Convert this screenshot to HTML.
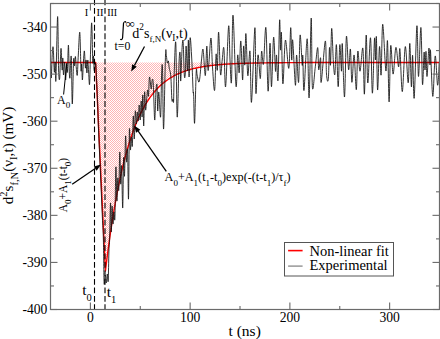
<!DOCTYPE html>
<html><head><meta charset="utf-8"><style>
html,body{margin:0;padding:0;background:#fff;}
svg{display:block;}
text{font-family:"Liberation Serif", serif;fill:#000;}
</style></head><body>
<svg width="440" height="339" viewBox="0 0 440 339">
<defs><pattern id="chk" width="2" height="2" patternUnits="userSpaceOnUse"><rect width="2" height="2" fill="#fff"/><rect width="1" height="1" fill="#ffb4b4"/><rect x="1" y="1" width="1" height="1" fill="#ffb4b4"/></pattern></defs>
<path d="M95.60,62.50 L105.40,271.00 L106.40,262.82 L107.40,254.97 L108.40,247.42 L109.40,240.17 L110.40,233.21 L111.40,226.51 L112.40,220.08 L113.40,213.90 L114.40,207.97 L115.40,202.26 L116.40,196.78 L117.40,191.52 L118.40,186.46 L119.40,181.60 L120.40,176.93 L121.40,172.44 L122.40,168.13 L123.40,163.99 L124.40,160.01 L125.40,156.19 L126.40,152.51 L127.40,148.98 L128.40,145.59 L129.40,142.33 L130.40,139.20 L131.40,136.20 L132.40,133.31 L133.40,130.53 L134.40,127.86 L135.40,125.30 L136.40,122.84 L137.40,120.47 L138.40,118.20 L139.40,116.01 L140.40,113.92 L141.40,111.90 L142.40,109.96 L143.40,108.10 L144.40,106.31 L145.40,104.60 L146.40,102.94 L147.40,101.36 L148.40,99.84 L149.40,98.37 L150.40,96.96 L151.40,95.61 L152.40,94.32 L153.40,93.07 L154.40,91.87 L155.40,90.72 L156.40,89.61 L157.40,88.55 L158.40,87.53 L159.40,86.55 L160.40,85.60 L161.40,84.70 L162.40,83.83 L163.40,82.99 L164.40,82.19 L165.40,81.41 L166.40,80.67 L167.40,79.96 L168.40,79.28 L169.40,78.62 L170.40,77.99 L171.40,77.38 L172.40,76.80 L173.40,76.23 L174.40,75.70 L175.40,75.18 L176.40,74.68 L177.40,74.20 L178.40,73.75 L179.40,73.30 L180.40,72.88 L181.40,72.47 L182.40,72.08 L183.40,71.71 L184.40,71.35 L185.40,71.00 L186.40,70.67 L187.40,70.35 L188.40,70.04 L189.40,69.74 L190.40,69.46 L191.40,69.19 L192.40,68.92 L193.40,68.67 L194.40,68.43 L195.40,68.20 L196.40,67.97 L197.40,67.76 L198.40,67.55 L199.40,67.35 L200.40,67.16 L201.40,66.98 L202.40,66.81 L203.40,66.64 L204.40,66.47 L205.40,66.32 L206.40,66.17 L207.40,66.03 L208.40,65.89 L209.40,65.75 L210.40,65.63 L211.40,65.50 L212.40,65.39 L213.40,65.27 L214.40,65.16 L215.40,65.06 L216.40,64.96 L217.40,64.86 L218.40,64.77 L219.40,64.68 L220.40,64.60 L221.40,64.51 L222.40,64.43 L223.40,64.36 L224.40,64.29 L225.40,64.22 L226.40,64.15 L227.40,64.08 L228.40,64.02 L229.40,63.96 L230.40,63.90 L231.40,63.85 L232.40,63.80 L233.40,63.75 L234.40,63.70 L235.40,63.65 L236.40,63.61 L237.40,63.56 L238.40,63.52 L239.40,63.48 L240.40,63.44 L241.40,63.40 L242.40,63.37 L243.40,63.34 L244.40,63.30 L245.40,63.27 L246.40,63.24 L247.40,63.21 L248.40,63.18 L249.40,63.16 L250.40,63.13 L251.40,63.11 L252.40,63.08 L253.40,63.06 L254.40,63.04 L255.40,63.02 L256.40,63.00 L257.40,62.98 L258.40,62.96 L259.40,62.94 L260.40,62.92 L260.40,62.50 Z" fill="url(#chk)" stroke="none"/>
<path d="M50.50,62.50 L95.60,62.50 L105.40,271.00 L106.40,262.82 L107.40,254.97 L108.40,247.42 L109.40,240.17 L110.40,233.21 L111.40,226.51 L112.40,220.08 L113.40,213.90 L114.40,207.97 L115.40,202.26 L116.40,196.78 L117.40,191.52 L118.40,186.46 L119.40,181.60 L120.40,176.93 L121.40,172.44 L122.40,168.13 L123.40,163.99 L124.40,160.01 L125.40,156.19 L126.40,152.51 L127.40,148.98 L128.40,145.59 L129.40,142.33 L130.40,139.20 L131.40,136.20 L132.40,133.31 L133.40,130.53 L134.40,127.86 L135.40,125.30 L136.40,122.84 L137.40,120.47 L138.40,118.20 L139.40,116.01 L140.40,113.92 L141.40,111.90 L142.40,109.96 L143.40,108.10 L144.40,106.31 L145.40,104.60 L146.40,102.94 L147.40,101.36 L148.40,99.84 L149.40,98.37 L150.40,96.96 L151.40,95.61 L152.40,94.32 L153.40,93.07 L154.40,91.87 L155.40,90.72 L156.40,89.61 L157.40,88.55 L158.40,87.53 L159.40,86.55 L160.40,85.60 L161.40,84.70 L162.40,83.83 L163.40,82.99 L164.40,82.19 L165.40,81.41 L166.40,80.67 L167.40,79.96 L168.40,79.28 L169.40,78.62 L170.40,77.99 L171.40,77.38 L172.40,76.80 L173.40,76.23 L174.40,75.70 L175.40,75.18 L176.40,74.68 L177.40,74.20 L178.40,73.75 L179.40,73.30 L180.40,72.88 L181.40,72.47 L182.40,72.08 L183.40,71.71 L184.40,71.35 L185.40,71.00 L186.40,70.67 L187.40,70.35 L188.40,70.04 L189.40,69.74 L190.40,69.46 L191.40,69.19 L192.40,68.92 L193.40,68.67 L194.40,68.43 L195.40,68.20 L196.40,67.97 L197.40,67.76 L198.40,67.55 L199.40,67.35 L200.40,67.16 L201.40,66.98 L202.40,66.81 L203.40,66.64 L204.40,66.47 L205.40,66.32 L206.40,66.17 L207.40,66.03 L208.40,65.89 L209.40,65.75 L210.40,65.63 L211.40,65.50 L212.40,65.39 L213.40,65.27 L214.40,65.16 L215.40,65.06 L216.40,64.96 L217.40,64.86 L218.40,64.77 L219.40,64.68 L220.40,64.60 L221.40,64.51 L222.40,64.43 L223.40,64.36 L224.40,64.29 L225.40,64.22 L226.40,64.15 L227.40,64.08 L228.40,64.02 L229.40,63.96 L230.40,63.90 L231.40,63.85 L232.40,63.80 L233.40,63.75 L234.40,63.70 L235.40,63.65 L236.40,63.61 L237.40,63.56 L238.40,63.52 L239.40,63.48 L240.40,63.44 L241.40,63.40 L242.40,63.37 L243.40,63.34 L244.40,63.30 L245.40,63.27 L246.40,63.24 L247.40,63.21 L248.40,63.18 L249.40,63.16 L250.40,63.13 L251.40,63.11 L252.40,63.08 L253.40,63.06 L254.40,63.04 L255.40,63.02 L256.40,63.00 L257.40,62.98 L258.40,62.96 L259.40,62.94 L260.40,62.92 L261.40,62.91 L262.40,62.89 L263.40,62.88 L264.40,62.86 L265.40,62.85 L266.40,62.83 L267.40,62.82 L268.40,62.81 L269.40,62.80 L270.40,62.78 L271.40,62.77 L272.40,62.76 L273.40,62.75 L274.40,62.74 L275.40,62.73 L276.40,62.72 L277.40,62.71 L278.40,62.71 L279.40,62.70 L280.40,62.69 L281.40,62.68 L282.40,62.68 L283.40,62.67 L284.40,62.66 L285.40,62.66 L286.40,62.65 L287.40,62.64 L288.40,62.64 L289.40,62.63 L290.40,62.63 L291.40,62.62 L292.40,62.62 L293.40,62.61 L294.40,62.61 L295.40,62.60 L296.40,62.60 L297.40,62.60 L298.40,62.59 L299.40,62.59 L300.40,62.59 L301.40,62.58 L302.40,62.58 L303.40,62.58 L304.40,62.57 L305.40,62.57 L306.40,62.57 L307.40,62.56 L308.40,62.56 L309.40,62.56 L310.40,62.56 L311.40,62.56 L312.40,62.55 L313.40,62.55 L314.40,62.55 L315.40,62.55 L316.40,62.55 L317.40,62.54 L318.40,62.54 L319.40,62.54 L320.40,62.54 L321.40,62.54 L322.40,62.54 L323.40,62.53 L324.40,62.53 L325.40,62.53 L326.40,62.53 L327.40,62.53 L328.40,62.53 L329.40,62.53 L330.40,62.53 L331.40,62.52 L332.40,62.52 L333.40,62.52 L334.40,62.52 L335.40,62.52 L336.40,62.52 L337.40,62.52 L338.40,62.52 L339.40,62.52 L340.40,62.52 L341.40,62.52 L342.40,62.52 L343.40,62.52 L344.40,62.51 L345.40,62.51 L346.40,62.51 L347.40,62.51 L348.40,62.51 L349.40,62.51 L350.40,62.51 L351.40,62.51 L352.40,62.51 L353.40,62.51 L354.40,62.51 L355.40,62.51 L356.40,62.51 L357.40,62.51 L358.40,62.51 L359.40,62.51 L360.40,62.51 L361.40,62.51 L362.40,62.51 L363.40,62.51 L364.40,62.51 L365.40,62.51 L366.40,62.51 L367.40,62.51 L368.40,62.51 L369.40,62.51 L370.40,62.51 L371.40,62.50 L372.40,62.50 L373.40,62.50 L374.40,62.50 L375.40,62.50 L376.40,62.50 L377.40,62.50 L378.40,62.50 L379.40,62.50 L380.40,62.50 L381.40,62.50 L382.40,62.50 L383.40,62.50 L384.40,62.50 L385.40,62.50 L386.40,62.50 L387.40,62.50 L388.40,62.50 L389.40,62.50 L390.40,62.50 L391.40,62.50 L392.40,62.50 L393.40,62.50 L394.40,62.50 L395.40,62.50 L396.40,62.50 L397.40,62.50 L398.40,62.50 L399.40,62.50 L400.40,62.50 L401.40,62.50 L402.40,62.50 L403.40,62.50 L404.40,62.50 L405.40,62.50 L406.40,62.50 L407.40,62.50 L408.40,62.50 L409.40,62.50 L410.40,62.50 L411.40,62.50 L412.40,62.50 L413.40,62.50 L414.40,62.50 L415.40,62.50 L416.40,62.50 L417.40,62.50 L418.40,62.50 L419.40,62.50 L420.40,62.50 L421.40,62.50 L422.40,62.50 L423.40,62.50 L424.40,62.50 L425.40,62.50 L426.40,62.50 L427.40,62.50 L428.40,62.50 L429.40,62.50 L430.40,62.50 L431.40,62.50 L432.40,62.50 L433.40,62.50 L434.40,62.50 L435.40,62.50 L436.40,62.50 L437.40,62.50 L438.40,62.50 L439.40,62.50 L439.50,62.50" fill="none" stroke="#f00" stroke-width="1.4" stroke-linejoin="round"/>
<path d="M50.50,60.00 C50.63,63.00 51.02,78.83 51.30,78.00 C51.58,77.17 51.88,60.08 52.20,55.00 C52.52,49.92 52.85,44.67 53.20,47.50 C53.55,50.33 53.97,69.58 54.30,72.00 C54.63,74.42 54.93,60.67 55.20,62.00 C55.47,63.33 55.50,87.57 55.90,80.00 C56.30,72.43 57.15,18.27 57.60,16.60 C58.05,14.93 58.27,59.60 58.60,70.00 C58.93,80.40 59.30,80.67 59.60,79.00 C59.90,77.33 60.15,65.07 60.40,60.00 C60.65,54.93 60.80,46.93 61.10,48.60 C61.40,50.27 61.92,68.43 62.20,70.00 C62.48,71.57 62.58,57.17 62.80,58.00 C63.02,58.83 63.18,74.33 63.50,75.00 C63.82,75.67 64.35,61.17 64.70,62.00 C65.05,62.83 65.28,79.67 65.60,80.00 C65.92,80.33 66.30,65.33 66.60,64.00 C66.90,62.67 67.10,75.15 67.40,72.00 C67.70,68.85 68.10,45.43 68.40,45.10 C68.70,44.77 68.95,64.52 69.20,70.00 C69.45,75.48 69.67,79.33 69.90,78.00 C70.13,76.67 70.35,65.17 70.60,62.00 C70.85,58.83 71.12,52.00 71.40,59.00 C71.68,66.00 71.93,103.83 72.30,104.00 C72.67,104.17 73.25,66.33 73.60,60.00 C73.95,53.67 74.10,66.58 74.40,66.00 C74.70,65.42 75.08,56.17 75.40,56.50 C75.72,56.83 75.98,64.92 76.30,68.00 C76.62,71.08 76.97,77.17 77.30,75.00 C77.63,72.83 77.88,62.10 78.30,55.00 C78.72,47.90 79.35,29.90 79.80,32.40 C80.25,34.90 80.68,64.73 81.00,70.00 C81.32,75.27 81.47,62.33 81.70,64.00 C81.93,65.67 82.12,80.33 82.40,80.00 C82.68,79.67 83.07,66.83 83.40,62.00 C83.73,57.17 84.07,50.00 84.40,51.00 C84.73,52.00 85.12,66.50 85.40,68.00 C85.68,69.50 85.85,59.17 86.10,60.00 C86.35,60.83 86.62,73.00 86.90,73.00 C87.18,73.00 87.52,60.17 87.80,60.00 C88.08,59.83 88.30,68.00 88.60,72.00 C88.90,76.00 89.27,87.67 89.60,84.00 C89.93,80.33 90.25,60.17 90.60,50.00 C90.95,39.83 91.33,21.00 91.70,23.00 C92.07,25.00 92.50,56.50 92.80,62.00 C93.10,67.50 93.27,54.58 93.50,56.00 C93.73,57.42 93.85,69.33 94.20,70.50 C94.55,71.67 95.20,61.42 95.60,63.00 C96.00,64.58 96.28,73.83 96.60,80.00 C96.92,86.17 97.20,92.17 97.50,100.00 C97.80,107.83 98.08,118.67 98.40,127.00 C98.72,135.33 99.07,142.50 99.40,150.00 C99.73,157.50 100.07,164.50 100.40,172.00 C100.73,179.50 101.07,187.33 101.40,195.00 C101.73,202.67 102.07,210.50 102.40,218.00 C102.73,225.50 103.12,229.17 103.40,240.00 C103.68,250.83 103.80,277.17 104.10,283.00 C104.40,288.83 104.83,275.00 105.20,275.00 C105.57,275.00 105.95,283.17 106.30,283.00 C106.65,282.83 106.98,274.33 107.30,274.00 C107.62,273.67 107.93,284.67 108.20,281.00 C108.47,277.33 108.67,258.83 108.90,252.00 C109.13,245.17 109.33,248.17 109.60,240.00 C109.87,231.83 110.22,204.33 110.50,203.00 C110.78,201.67 111.03,231.50 111.30,232.00 C111.57,232.50 111.82,207.33 112.10,206.00 C112.38,204.67 112.68,223.00 113.00,224.00 C113.32,225.00 113.68,213.00 114.00,212.00 C114.32,211.00 114.58,225.50 114.90,218.00 C115.22,210.50 115.57,169.83 115.90,167.00 C116.23,164.17 116.58,199.17 116.90,201.00 C117.22,202.83 117.48,179.83 117.80,178.00 C118.12,176.17 118.47,194.33 118.80,190.00 C119.13,185.67 119.48,153.00 119.80,152.00 C120.12,151.00 120.40,181.67 120.70,184.00 C121.00,186.33 121.27,162.00 121.60,166.00 C121.93,170.00 122.37,209.33 122.70,208.00 C123.03,206.67 123.30,163.33 123.60,158.00 C123.90,152.67 124.17,179.67 124.50,176.00 C124.83,172.33 125.25,138.33 125.60,136.00 C125.95,133.67 126.27,159.67 126.60,162.00 C126.93,164.33 127.28,143.83 127.60,150.00 C127.92,156.17 128.20,202.33 128.50,199.00 C128.80,195.67 129.08,138.17 129.40,130.00 C129.72,121.83 130.08,148.83 130.40,150.00 C130.72,151.17 130.98,137.67 131.30,137.00 C131.62,136.33 131.97,149.50 132.30,146.00 C132.63,142.50 132.97,117.17 133.30,116.00 C133.63,114.83 133.97,139.83 134.30,139.00 C134.63,138.17 134.97,113.50 135.30,111.00 C135.63,108.50 135.97,123.83 136.30,124.00 C136.63,124.17 136.98,112.50 137.30,112.00 C137.62,111.50 137.88,122.17 138.20,121.00 C138.52,119.83 138.87,105.17 139.20,105.00 C139.53,104.83 139.87,120.67 140.20,120.00 C140.53,119.33 140.88,101.50 141.20,101.00 C141.52,100.50 141.83,118.00 142.10,117.00 C142.37,116.00 142.53,93.50 142.80,95.00 C143.07,96.50 143.40,126.50 143.70,126.00 C144.00,125.50 144.28,94.67 144.60,92.00 C144.92,89.33 145.27,108.67 145.60,110.00 C145.93,111.33 146.27,103.33 146.60,100.00 C146.93,96.67 147.28,90.67 147.60,90.00 C147.92,89.33 148.18,98.17 148.50,96.00 C148.82,93.83 149.05,78.17 149.50,77.00 C149.95,75.83 150.75,88.50 151.20,89.00 C151.65,89.50 151.85,80.83 152.20,80.00 C152.55,79.17 152.88,77.33 153.30,84.00 C153.72,90.67 154.27,118.67 154.70,120.00 C155.13,121.33 155.52,97.83 155.90,92.00 C156.28,86.17 156.70,81.83 157.00,85.00 C157.30,88.17 157.40,109.83 157.70,111.00 C158.00,112.17 158.32,91.00 158.80,92.00 C159.28,93.00 160.13,120.00 160.60,117.00 C161.07,114.00 161.28,82.00 161.60,74.00 C161.92,66.00 162.17,59.83 162.50,69.00 C162.83,78.17 163.10,131.33 163.60,129.00 C164.10,126.67 165.03,67.17 165.50,55.00 C165.97,42.83 166.10,54.67 166.40,56.00 C166.70,57.33 166.97,62.17 167.30,63.00 C167.63,63.83 168.08,60.17 168.40,61.00 C168.72,61.83 168.80,65.50 169.20,68.00 C169.60,70.50 170.35,70.67 170.80,76.00 C171.25,81.33 171.53,96.17 171.90,100.00 C172.27,103.83 172.72,98.83 173.00,99.00 C173.28,99.17 173.40,105.33 173.60,101.00 C173.80,96.67 173.83,82.67 174.20,73.00 C174.57,63.33 175.30,35.67 175.80,43.00 C176.30,50.33 176.65,114.00 177.20,117.00 C177.75,120.00 178.60,71.50 179.10,61.00 C179.60,50.50 179.93,50.67 180.20,54.00 C180.47,57.33 180.37,82.33 180.70,81.00 C181.03,79.67 181.78,52.33 182.20,46.00 C182.62,39.67 182.85,38.17 183.20,43.00 C183.55,47.83 183.95,70.00 184.30,75.00 C184.65,80.00 185.00,77.83 185.30,73.00 C185.60,68.17 185.75,46.33 186.10,46.00 C186.45,45.67 187.02,72.00 187.40,71.00 C187.78,70.00 188.12,39.00 188.40,40.00 C188.68,41.00 188.82,77.33 189.10,77.00 C189.38,76.67 189.65,40.83 190.10,38.00 C190.55,35.17 191.30,51.17 191.80,60.00 C192.30,68.83 192.80,85.33 193.10,91.00 C193.40,96.67 193.35,88.67 193.60,94.00 C193.85,99.33 194.17,126.67 194.60,123.00 C195.03,119.33 195.78,80.00 196.20,72.00 C196.62,64.00 196.68,73.33 197.10,75.00 C197.52,76.67 198.25,81.50 198.70,82.00 C199.15,82.50 199.33,81.67 199.80,78.00 C200.27,74.33 200.95,64.75 201.50,60.00 C202.05,55.25 202.47,46.90 203.10,49.50 C203.73,52.10 204.68,76.17 205.30,75.60 C205.92,75.03 206.32,46.95 206.80,46.10 C207.28,45.25 207.52,71.85 208.20,70.50 C208.88,69.15 210.18,38.58 210.90,38.00 C211.62,37.42 211.88,58.27 212.50,67.00 C213.12,75.73 214.00,92.53 214.60,90.40 C215.20,88.27 215.65,57.60 216.10,54.20 C216.55,50.80 216.88,73.68 217.30,70.00 C217.72,66.32 218.07,31.40 218.60,32.10 C219.13,32.80 219.90,69.55 220.50,74.20 C221.10,78.85 221.63,64.32 222.20,60.00 C222.77,55.68 223.33,43.85 223.90,48.30 C224.47,52.75 224.82,90.38 225.60,86.70 C226.38,83.02 227.87,30.65 228.60,26.20 C229.33,21.75 229.52,50.78 230.00,60.00 C230.48,69.22 231.00,88.97 231.50,81.50 C232.00,74.03 232.25,14.45 233.00,15.20 C233.75,15.95 235.22,79.37 236.00,86.00 C236.78,92.63 237.17,57.22 237.70,55.00 C238.23,52.78 238.68,75.03 239.20,72.70 C239.72,70.37 240.23,39.78 240.80,41.00 C241.37,42.22 242.13,79.15 242.60,80.00 C243.07,80.85 243.23,48.60 243.60,46.10 C243.97,43.60 244.42,67.08 244.80,65.00 C245.18,62.92 245.40,31.83 245.90,33.60 C246.40,35.37 247.12,72.65 247.80,75.60 C248.48,78.55 249.38,46.87 250.00,51.30 C250.62,55.73 250.68,106.13 251.50,102.20 C252.32,98.27 254.17,29.18 254.90,27.70 C255.63,26.22 255.38,88.75 255.90,93.30 C256.42,97.85 257.27,57.45 258.00,55.00 C258.73,52.55 259.70,79.22 260.30,78.60 C260.90,77.98 261.07,53.73 261.60,51.30 C262.13,48.87 262.78,67.93 263.50,64.00 C264.22,60.07 265.13,23.18 265.90,27.70 C266.67,32.22 267.42,88.52 268.10,91.10 C268.78,93.68 269.43,43.93 270.00,43.20 C270.57,42.47 270.90,87.68 271.50,86.70 C272.10,85.72 272.93,39.88 273.60,37.30 C274.27,34.72 275.02,68.25 275.50,71.20 C275.98,74.15 276.08,53.52 276.50,55.00 C276.92,56.48 277.48,85.88 278.00,80.10 C278.52,74.32 279.18,25.32 279.60,20.30 C280.02,15.28 280.20,47.90 280.50,50.00 C280.80,52.10 281.00,27.27 281.40,32.90 C281.80,38.53 282.23,82.58 282.90,83.80 C283.57,85.02 284.42,42.78 285.40,40.20 C286.38,37.62 287.92,70.38 288.80,68.30 C289.68,66.22 290.22,29.08 290.70,27.70 C291.18,26.32 291.37,57.92 291.70,60.00 C292.03,62.08 292.08,36.00 292.70,40.20 C293.32,44.40 294.75,82.73 295.40,85.20 C296.05,87.67 296.07,55.48 296.60,55.00 C297.13,54.52 298.02,85.62 298.60,82.30 C299.18,78.98 299.50,37.98 300.10,35.10 C300.70,32.22 301.75,61.57 302.20,65.00 C302.65,68.43 302.50,51.47 302.80,55.70 C303.10,59.93 303.27,93.22 304.00,90.40 C304.73,87.58 306.35,37.57 307.20,38.80 C308.05,40.03 308.43,101.25 309.10,97.80 C309.77,94.35 310.65,19.83 311.20,18.10 C311.75,16.37 311.72,79.28 312.40,87.40 C313.08,95.52 314.42,73.43 315.30,66.80 C316.18,60.17 317.13,47.12 317.70,47.60 C318.27,48.08 318.22,67.98 318.70,69.70 C319.18,71.42 320.18,55.80 320.60,57.90 C321.02,60.00 320.42,85.12 321.20,82.30 C321.98,79.48 324.42,42.38 325.30,41.00 C326.18,39.62 326.00,67.62 326.50,74.00 C327.00,80.38 327.80,83.70 328.30,79.30 C328.80,74.90 329.13,49.98 329.50,47.60 C329.87,45.22 330.13,68.20 330.50,65.00 C330.87,61.80 331.22,28.83 331.70,28.40 C332.18,27.97 332.87,54.77 333.40,62.40 C333.93,70.03 334.40,77.15 334.90,74.20 C335.40,71.25 335.85,42.62 336.40,44.70 C336.95,46.78 337.63,86.70 338.20,86.70 C338.77,86.70 339.25,47.28 339.80,44.70 C340.35,42.12 341.08,71.33 341.50,71.20 C341.92,71.07 341.80,39.60 342.30,43.90 C342.80,48.20 343.82,98.23 344.50,97.00 C345.18,95.77 345.72,41.05 346.40,36.50 C347.08,31.95 347.93,67.60 348.60,69.70 C349.27,71.80 349.85,47.00 350.40,49.10 C350.95,51.20 351.28,81.32 351.90,82.30 C352.52,83.28 353.37,53.77 354.10,55.00 C354.83,56.23 355.68,90.32 356.30,89.70 C356.92,89.08 357.18,54.38 357.80,51.30 C358.42,48.22 359.15,71.70 360.00,71.20 C360.85,70.70 362.17,44.48 362.90,48.30 C363.63,52.12 363.85,96.30 364.40,94.10 C364.95,91.90 365.63,36.95 366.20,35.10 C366.77,33.25 367.08,82.55 367.80,83.00 C368.52,83.45 369.73,36.10 370.50,37.80 C371.27,39.50 371.73,93.07 372.40,93.20 C373.07,93.33 373.98,44.13 374.50,38.60 C375.02,33.07 375.18,60.27 375.50,60.00 C375.82,59.73 376.05,32.00 376.40,37.00 C376.75,42.00 377.08,88.40 377.60,90.00 C378.12,91.60 378.92,49.12 379.50,46.60 C380.08,44.08 380.57,78.62 381.10,74.90 C381.63,71.18 381.90,24.97 382.70,24.30 C383.50,23.63 385.10,68.12 385.90,70.90 C386.70,73.68 386.97,35.83 387.50,41.00 C388.03,46.17 388.57,101.10 389.10,101.90 C389.63,102.70 390.03,50.43 390.70,45.80 C391.37,41.17 392.23,73.83 393.10,74.10 C393.97,74.37 394.98,48.60 395.90,47.40 C396.82,46.20 397.93,66.63 398.60,66.90 C399.27,67.17 399.28,44.88 399.90,49.00 C400.52,53.12 401.40,92.00 402.30,91.60 C403.20,91.20 404.32,48.07 405.30,46.60 C406.28,45.13 407.45,83.33 408.20,82.80 C408.95,82.27 409.27,42.73 409.80,43.40 C410.33,44.07 410.93,84.82 411.40,86.80 C411.87,88.78 412.13,53.43 412.60,55.30 C413.07,57.17 413.48,102.90 414.20,98.00 C414.92,93.10 416.18,29.48 416.90,25.90 C417.62,22.32 417.83,76.23 418.50,76.50 C419.17,76.77 420.23,26.18 420.90,27.50 C421.57,28.82 421.97,80.28 422.50,84.40 C423.03,88.52 423.68,54.60 424.10,52.20 C424.52,49.80 424.68,70.13 425.00,70.00 C425.32,69.87 425.67,50.32 426.00,51.40 C426.33,52.48 426.52,77.03 427.00,76.50 C427.48,75.97 428.40,50.12 428.90,48.20 C429.40,46.28 429.73,64.60 430.00,65.00 C430.27,65.40 430.03,45.37 430.50,50.60 C430.97,55.83 432.02,95.50 432.80,96.40 C433.58,97.30 434.40,57.87 435.20,56.00 C436.00,54.13 436.92,84.20 437.60,85.20 C438.28,86.20 439.02,65.87 439.30,62.00" fill="none" stroke="#111" stroke-width="0.85" stroke-linejoin="round"/>
<line x1="94.5" y1="0" x2="94.5" y2="309.5" stroke="#000" stroke-width="1.1" stroke-dasharray="5.8,2.67" stroke-dashoffset="0.55"/>
<line x1="105.0" y1="0" x2="105.0" y2="309.5" stroke="#000" stroke-width="1.1" stroke-dasharray="5.8,2.67" stroke-dashoffset="0.55"/>
<rect x="50.5" y="3.5" width="389" height="306" fill="none" stroke="#6a6a6a" stroke-width="1.2"/>
<line x1="90.40" y1="309.5" x2="90.40" y2="302.5" stroke="#6a6a6a" stroke-width="1.1"/>
<line x1="90.40" y1="3.5" x2="90.40" y2="10.5" stroke="#6a6a6a" stroke-width="1.1"/>
<line x1="140.27" y1="309.5" x2="140.27" y2="306.0" stroke="#6a6a6a" stroke-width="1.1"/>
<line x1="140.27" y1="3.5" x2="140.27" y2="7.0" stroke="#6a6a6a" stroke-width="1.1"/>
<line x1="190.14" y1="309.5" x2="190.14" y2="302.5" stroke="#6a6a6a" stroke-width="1.1"/>
<line x1="190.14" y1="3.5" x2="190.14" y2="10.5" stroke="#6a6a6a" stroke-width="1.1"/>
<line x1="240.01" y1="309.5" x2="240.01" y2="306.0" stroke="#6a6a6a" stroke-width="1.1"/>
<line x1="240.01" y1="3.5" x2="240.01" y2="7.0" stroke="#6a6a6a" stroke-width="1.1"/>
<line x1="289.88" y1="309.5" x2="289.88" y2="302.5" stroke="#6a6a6a" stroke-width="1.1"/>
<line x1="289.88" y1="3.5" x2="289.88" y2="10.5" stroke="#6a6a6a" stroke-width="1.1"/>
<line x1="339.76" y1="309.5" x2="339.76" y2="306.0" stroke="#6a6a6a" stroke-width="1.1"/>
<line x1="339.76" y1="3.5" x2="339.76" y2="7.0" stroke="#6a6a6a" stroke-width="1.1"/>
<line x1="389.63" y1="309.5" x2="389.63" y2="302.5" stroke="#6a6a6a" stroke-width="1.1"/>
<line x1="389.63" y1="3.5" x2="389.63" y2="10.5" stroke="#6a6a6a" stroke-width="1.1"/>
<line x1="439.50" y1="309.5" x2="439.50" y2="306.0" stroke="#6a6a6a" stroke-width="1.1"/>
<line x1="439.50" y1="3.5" x2="439.50" y2="7.0" stroke="#6a6a6a" stroke-width="1.1"/>
<line x1="50.5" y1="309.50" x2="57.5" y2="309.50" stroke="#6a6a6a" stroke-width="1.1"/>
<line x1="439.5" y1="309.50" x2="432.5" y2="309.50" stroke="#6a6a6a" stroke-width="1.1"/>
<line x1="50.5" y1="285.96" x2="54.0" y2="285.96" stroke="#6a6a6a" stroke-width="1.1"/>
<line x1="439.5" y1="285.96" x2="436.0" y2="285.96" stroke="#6a6a6a" stroke-width="1.1"/>
<line x1="50.5" y1="262.42" x2="57.5" y2="262.42" stroke="#6a6a6a" stroke-width="1.1"/>
<line x1="439.5" y1="262.42" x2="432.5" y2="262.42" stroke="#6a6a6a" stroke-width="1.1"/>
<line x1="50.5" y1="238.88" x2="54.0" y2="238.88" stroke="#6a6a6a" stroke-width="1.1"/>
<line x1="439.5" y1="238.88" x2="436.0" y2="238.88" stroke="#6a6a6a" stroke-width="1.1"/>
<line x1="50.5" y1="215.35" x2="57.5" y2="215.35" stroke="#6a6a6a" stroke-width="1.1"/>
<line x1="439.5" y1="215.35" x2="432.5" y2="215.35" stroke="#6a6a6a" stroke-width="1.1"/>
<line x1="50.5" y1="191.81" x2="54.0" y2="191.81" stroke="#6a6a6a" stroke-width="1.1"/>
<line x1="439.5" y1="191.81" x2="436.0" y2="191.81" stroke="#6a6a6a" stroke-width="1.1"/>
<line x1="50.5" y1="168.27" x2="57.5" y2="168.27" stroke="#6a6a6a" stroke-width="1.1"/>
<line x1="439.5" y1="168.27" x2="432.5" y2="168.27" stroke="#6a6a6a" stroke-width="1.1"/>
<line x1="50.5" y1="144.73" x2="54.0" y2="144.73" stroke="#6a6a6a" stroke-width="1.1"/>
<line x1="439.5" y1="144.73" x2="436.0" y2="144.73" stroke="#6a6a6a" stroke-width="1.1"/>
<line x1="50.5" y1="121.19" x2="57.5" y2="121.19" stroke="#6a6a6a" stroke-width="1.1"/>
<line x1="439.5" y1="121.19" x2="432.5" y2="121.19" stroke="#6a6a6a" stroke-width="1.1"/>
<line x1="50.5" y1="97.65" x2="54.0" y2="97.65" stroke="#6a6a6a" stroke-width="1.1"/>
<line x1="439.5" y1="97.65" x2="436.0" y2="97.65" stroke="#6a6a6a" stroke-width="1.1"/>
<line x1="50.5" y1="74.12" x2="57.5" y2="74.12" stroke="#6a6a6a" stroke-width="1.1"/>
<line x1="439.5" y1="74.12" x2="432.5" y2="74.12" stroke="#6a6a6a" stroke-width="1.1"/>
<line x1="50.5" y1="50.58" x2="54.0" y2="50.58" stroke="#6a6a6a" stroke-width="1.1"/>
<line x1="439.5" y1="50.58" x2="436.0" y2="50.58" stroke="#6a6a6a" stroke-width="1.1"/>
<line x1="50.5" y1="27.04" x2="57.5" y2="27.04" stroke="#6a6a6a" stroke-width="1.1"/>
<line x1="439.5" y1="27.04" x2="432.5" y2="27.04" stroke="#6a6a6a" stroke-width="1.1"/>
<line x1="50.5" y1="3.50" x2="54.0" y2="3.50" stroke="#6a6a6a" stroke-width="1.1"/>
<line x1="439.5" y1="3.50" x2="436.0" y2="3.50" stroke="#6a6a6a" stroke-width="1.1"/>
<text x="90.40" y="322.3" font-size="13.6" text-anchor="middle">0</text>
<text x="190.14" y="322.3" font-size="13.6" text-anchor="middle">100</text>
<text x="289.88" y="322.3" font-size="13.6" text-anchor="middle">200</text>
<text x="389.63" y="322.3" font-size="13.6" text-anchor="middle">300</text>
<text x="47.3" y="314.20" font-size="13.6" text-anchor="end">-400</text>
<text x="47.3" y="267.12" font-size="13.6" text-anchor="end">-390</text>
<text x="47.3" y="220.05" font-size="13.6" text-anchor="end">-380</text>
<text x="47.3" y="172.97" font-size="13.6" text-anchor="end">-370</text>
<text x="47.3" y="125.89" font-size="13.6" text-anchor="end">-360</text>
<text x="47.3" y="78.82" font-size="13.6" text-anchor="end">-350</text>
<text x="47.3" y="31.74" font-size="13.6" text-anchor="end">-340</text>
<text x="228.5" y="336" font-size="15.5">t (ns)</text>
<text transform="translate(13.3,204.3) rotate(-90)" font-size="15.2">d<tspan font-size="10.5" dy="-6.5">2</tspan><tspan dy="6.5">s</tspan><tspan font-size="10.5" dy="4.2">f,N</tspan><tspan dy="-4.2">(ν</tspan><tspan font-size="10.5" dy="4">I</tspan><tspan dy="-4">,t)  (mV)</tspan></text>
<text x="84.8" y="16" font-size="10.5">I</text>
<text x="96.4" y="16" font-size="10.5">II</text>
<text x="107.2" y="16" font-size="10">III</text>
<text x="82.3" y="295" font-size="15.5">t<tspan font-size="10.5" dy="6">0</tspan></text>
<text x="106.7" y="297" font-size="15.5">t<tspan font-size="10.5" dy="5.5">1</tspan></text>
<text x="57" y="104" font-size="12">A<tspan font-size="9" dy="4">0</tspan></text>
<line x1="63.6" y1="94.5" x2="66.8" y2="63" stroke="#000" stroke-width="1"/>
<text transform="translate(67.4,212.3) rotate(-90)" font-size="11.5">A<tspan font-size="9" dy="4">0</tspan><tspan dy="-4">+A</tspan><tspan font-size="9" dy="4">1</tspan><tspan dy="-4">(t-t</tspan><tspan font-size="9" dy="4">0</tspan><tspan dy="-4">)</tspan></text>
<line x1="72.2" y1="184.2" x2="95.21" y2="168.54" stroke="#000" stroke-width="1.25"/>
<path d="M101,164.6 L96.68,170.69 L93.75,166.39 Z" fill="#000"/>
<text x="164.6" y="181.4" font-size="12.2">A<tspan font-size="9" dy="5">0</tspan><tspan dy="-5">+A</tspan><tspan font-size="9" dy="5">1</tspan><tspan dy="-5">(t</tspan><tspan font-size="9" dy="5">1</tspan><tspan dy="-5">-t</tspan><tspan font-size="9" dy="5">0</tspan><tspan dy="-5">)exp(-(t-t</tspan><tspan font-size="9" dy="5">1</tspan><tspan dy="-5">)/τ</tspan><tspan font-size="9" dy="5">f</tspan><tspan dy="-5">)</tspan></text>
<line x1="166.3" y1="171.4" x2="138.21" y2="131.14" stroke="#000" stroke-width="1.25"/>
<path d="M134.2,125.4 L140.34,129.65 L136.07,132.63 Z" fill="#000"/>
<path d="M126,22.6 C125.6,21.4 123.9,21.2 123.5,23.4 L122.6,37.6 C122.4,39.9 120.9,40 120.4,38.9" fill="none" stroke="#000" stroke-width="1.2"/>
<text x="125.6" y="27.6" font-size="13">∞</text>
<text x="132.3" y="37.7" font-size="14.1">d<tspan font-size="9.3" dy="-8">2</tspan><tspan dy="8">s</tspan><tspan font-size="9" dy="3.8">f,N</tspan><tspan dy="-3.8">(ν</tspan><tspan font-size="9.3" dy="3.5">I</tspan><tspan dy="-3.5">,t)</tspan></text>
<text x="114.6" y="49.5" font-size="11.8">t=0</text>
<line x1="144.5" y1="46.5" x2="134.48" y2="65.41" stroke="#000" stroke-width="1.25"/>
<path d="M131.2,71.6 L132.18,64.20 L136.77,66.63 Z" fill="#000"/>
<rect x="284.5" y="242.5" width="109" height="33.5" fill="#fff" stroke="#555" stroke-width="1"/>
<line x1="288.1" y1="250.6" x2="302.6" y2="250.6" stroke="#f00" stroke-width="1.6"/>
<line x1="288.1" y1="266.1" x2="302.6" y2="266.1" stroke="#888" stroke-width="1.3"/>
<text x="309.5" y="255.7" font-size="14.5">Non-linear fit</text>
<text x="309.5" y="270" font-size="14.5">Experimental</text>
</svg>
</body></html>
